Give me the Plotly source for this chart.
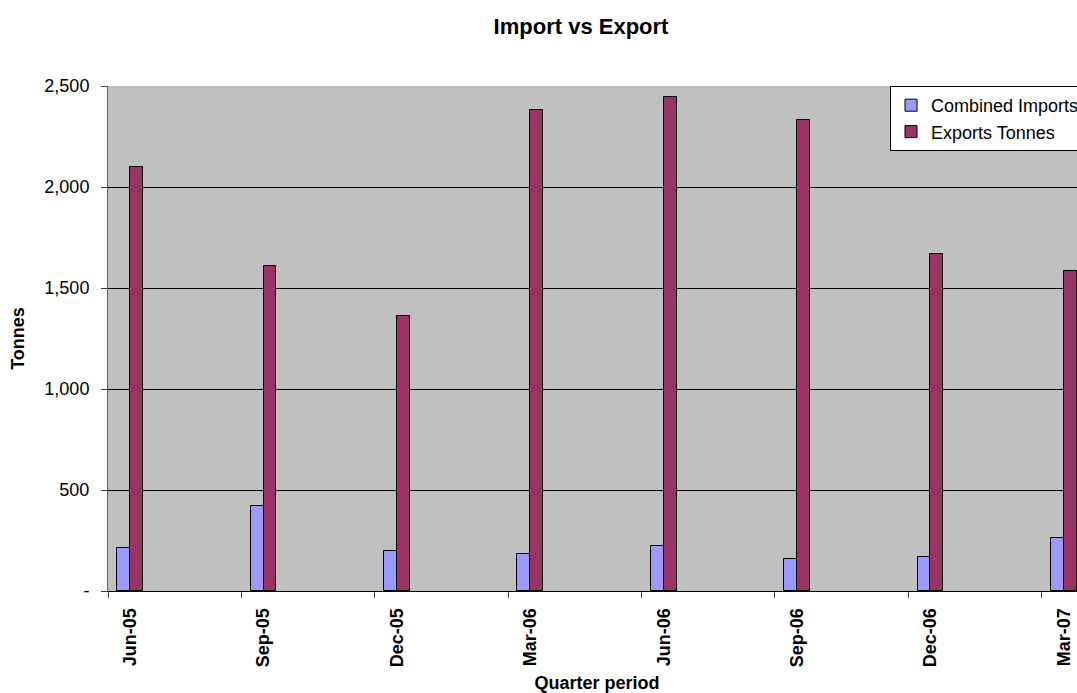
import plotly.graph_objects as go

quarters = ["Jun-05", "Sep-05", "Dec-05", "Mar-06", "Jun-06", "Sep-06", "Dec-06", "Mar-07"]
imports_t = [211, 423, 196, 183, 224, 160, 168, 260]
exports_t = [2099, 1607, 1361, 2380, 2444, 2330, 1668, 1584]
y_ticks = [0, 500, 1000, 1500, 2000, 2500]
y_ticktext = ["-", "500", "1,000", "1,500", "2,000", "2,500"]

# date-style axis: one slot per month, quarterly data
xpos = [3 * i for i in range(len(quarters))]
bounds = [p - 0.5 for p in xpos]

FONT = "Liberation Sans, Arial, sans-serif"
bw = 0.29
W = 1110  # original chart is wider than the visible 1077 px window

fig = go.Figure()
fig.add_trace(go.Bar(x=xpos, y=imports_t, name="Combined Imports", width=bw, offset=-bw,
                     marker=dict(color="#9999FF", line=dict(color="black", width=1))))
fig.add_trace(go.Bar(x=xpos, y=exports_t, name="Exports Tonnes", width=bw, offset=0,
                     marker=dict(color="#993366", line=dict(color="black", width=1))))

fig.update_layout(
    width=W, height=693,
    margin=dict(l=108, r=W - 1086, t=86, b=102, autoexpand=False),
    paper_bgcolor="white", plot_bgcolor="#C0C0C0",
    font=dict(family=FONT, size=18, color="black"),
    title=dict(text="<b>Import vs Export</b>", x=581 / W, xanchor="center",
               y=1 - 26 / 693, yanchor="middle", font=dict(size=22, family=FONT)),
    showlegend=True,
    legend=dict(x=(890 - 108) / (1086 - 108), y=1.0, xanchor="left", yanchor="top",
                bgcolor="white", bordercolor="black", borderwidth=1,
                font=dict(size=18, family=FONT), tracegroupgap=0, itemwidth=30),
    bargap=0,
)
fig.update_xaxes(
    range=[-0.5, 21.5], tickmode="array", tickvals=xpos, ticktext=quarters,
    tickangle=-90, ticks="", showgrid=False, zeroline=False, automargin=False,
    tickfont=dict(size=18, family=FONT, weight="bold"), ticklabelstandoff=9,
    showline=True, linecolor="black", linewidth=1,
    minor=dict(tickmode="array", tickvals=bounds, ticks="outside", ticklen=6,
               tickcolor="#404040", tickwidth=1, showgrid=False),
    title=dict(text="<b>Quarter period</b>", font=dict(size=18, family=FONT), standoff=10),
)
fig.update_yaxes(
    range=[0, 2500], tickmode="array", tickvals=y_ticks, ticktext=y_ticktext,
    ticks="outside", ticklen=6, tickcolor="#404040", ticklabelstandoff=8,
    showgrid=True, gridcolor="black", gridwidth=1, zeroline=False, automargin=False,
    showline=True, linecolor="#606060", linewidth=1,
    tickfont=dict(size=18, family=FONT),
    title=dict(text="<b>Tonnes</b>", font=dict(size=18, family=FONT), standoff=15),
)
fig.write_html(
    "out.html",
    post_script="document.documentElement.style.overflow='hidden';document.body.style.overflow='hidden';document.body.style.margin='0';",
)
